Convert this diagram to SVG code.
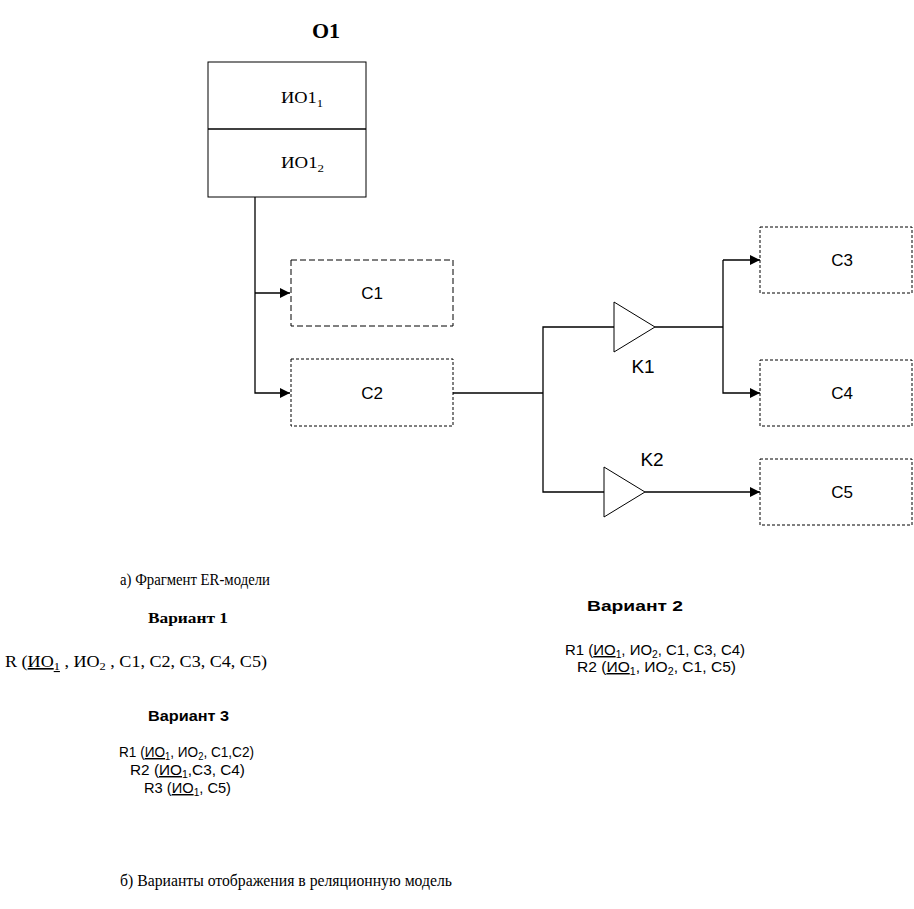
<svg xmlns="http://www.w3.org/2000/svg" width="914" height="909" viewBox="0 0 914 909">
<style>
.ln{fill:none;stroke:#000;stroke-width:1.3}
.box{fill:#fff;stroke:#000;stroke-width:1}
.dl{fill:#fff;stroke:#000;stroke-width:1;stroke-dasharray:6 3}
.ds{fill:#fff;stroke:#000;stroke-width:1;stroke-dasharray:3 2}
.tri{fill:#fff;stroke:#000;stroke-width:1}
.ser{font-family:"Liberation Serif",serif;fill:#000}
.san{font-family:"Liberation Sans",Arial,sans-serif;fill:#000}
</style>
<defs>
<marker id="ar" viewBox="0 0 10 10" refX="10" refY="5" markerWidth="10" markerHeight="10" markerUnits="userSpaceOnUse" orient="auto">
<path d="M0,0 L10,5 L0,10 z" fill="#000"/>
</marker>
</defs>
<rect width="914" height="909" fill="#fff"/>

<g id="O1">
<text class="ser" x="326" y="38" font-size="22" font-weight="bold" text-anchor="middle">O1</text>
<rect class="box" x="208" y="62" width="158" height="135"/>
<line class="ln" x1="208" y1="129" x2="366" y2="129" stroke-width="1"/>
<text class="ser" x="281" y="103" font-size="16" textLength="42" lengthAdjust="spacingAndGlyphs">ИО1<tspan dy="4" font-size="11">1</tspan></text>
<text class="ser" x="281" y="168" font-size="16" textLength="43" lengthAdjust="spacingAndGlyphs">ИО1<tspan dy="4" font-size="11">2</tspan></text>
</g>

<g id="connectors">
<polyline class="ln" points="255,197 255,393 290,393" marker-end="url(#ar)"/>
<polyline class="ln" points="255,293 290,293" marker-end="url(#ar)"/>
<polyline class="ln" points="453,393 543,393"/>
<polyline class="ln" points="614,327 543,327 543,492 604,492"/>
<polyline class="ln" points="655,327 723,327"/>
<polyline class="ln" points="723,260 723,393 760,393" marker-end="url(#ar)"/>
<polyline class="ln" points="723,260 760,260" marker-end="url(#ar)"/>
<polyline class="ln" points="645,492 760,492" marker-end="url(#ar)"/>
</g>

<g id="C1">
<rect class="dl" x="291" y="260" width="162" height="66"/>
<text class="san" x="372" y="299" font-size="17" text-anchor="middle">C1</text>
</g>
<g id="C2">
<rect class="ds" x="291" y="359" width="162" height="67"/>
<text class="san" x="372" y="399" font-size="17" text-anchor="middle">C2</text>
</g>
<g id="K1">
<polygon class="tri" points="614,302 614,352 655,327"/>
<text class="san" x="643" y="373" font-size="19" text-anchor="middle">K1</text>
</g>
<g id="K2">
<polygon class="tri" points="604,467 604,517 645,492"/>
<text class="san" x="652" y="466" font-size="19" text-anchor="middle">K2</text>
</g>
<g id="C3">
<rect class="ds" x="760" y="227" width="152" height="66"/>
<text class="san" x="842" y="266" font-size="17" text-anchor="middle">C3</text>
</g>
<g id="C4">
<rect class="ds" x="760" y="360" width="152" height="66"/>
<text class="san" x="842" y="399" font-size="17" text-anchor="middle">C4</text>
</g>
<g id="C5">
<rect class="ds" x="760" y="459" width="152" height="66"/>
<text class="san" x="842" y="498" font-size="17" text-anchor="middle">C5</text>
</g>

<g id="captions">
<text class="ser" x="120" y="585" font-size="16" textLength="150" lengthAdjust="spacingAndGlyphs">а) Фрагмент ER-модели</text>
<text class="ser" x="148" y="623" font-size="14" font-weight="bold" textLength="80" lengthAdjust="spacingAndGlyphs">Вариант 1</text>
<text class="ser" x="5" y="667" font-size="16" textLength="262" lengthAdjust="spacingAndGlyphs">R (<tspan text-decoration="underline">ИО</tspan><tspan dy="3" font-size="11" text-decoration="underline">1</tspan><tspan dy="-3"> , ИО</tspan><tspan dy="3" font-size="11">2</tspan><tspan dy="-3"> , C1, C2, C3, C4, C5)</tspan></text>

<text class="san" x="587" y="611" font-size="14" font-weight="bold" textLength="96" lengthAdjust="spacingAndGlyphs">Вариант  2</text>
<text class="san" x="565" y="655" font-size="14.5" textLength="180" lengthAdjust="spacingAndGlyphs">R1 (<tspan text-decoration="underline">ИО</tspan><tspan dy="3" font-size="10">1</tspan><tspan dy="-3">, ИО</tspan><tspan dy="3" font-size="10">2</tspan><tspan dy="-3">, C1,  C3, C4)</tspan></text>
<text class="san" x="577" y="672" font-size="14.5" textLength="159" lengthAdjust="spacingAndGlyphs">R2 (<tspan text-decoration="underline">ИО</tspan><tspan dy="3" font-size="10">1</tspan><tspan dy="-3">, ИО</tspan><tspan dy="3" font-size="10">2</tspan><tspan dy="-3">, C1, C5)</tspan></text>

<text class="san" x="148" y="721" font-size="14" font-weight="bold" textLength="81" lengthAdjust="spacingAndGlyphs">Вариант 3</text>
<text class="san" x="119" y="757" font-size="14.5" textLength="135" lengthAdjust="spacingAndGlyphs">R1 (<tspan text-decoration="underline">ИО</tspan><tspan dy="3" font-size="10">1</tspan><tspan dy="-3">, ИО</tspan><tspan dy="3" font-size="10">2</tspan><tspan dy="-3">, C1,C2)</tspan></text>
<text class="san" x="130" y="775" font-size="14.5" textLength="115" lengthAdjust="spacingAndGlyphs">R2 (<tspan text-decoration="underline">ИО</tspan><tspan dy="3" font-size="10">1</tspan><tspan dy="-3">,C3, C4)</tspan></text>
<text class="san" x="144" y="793" font-size="14.5" textLength="87" lengthAdjust="spacingAndGlyphs">R3 (<tspan text-decoration="underline">ИО</tspan><tspan dy="3" font-size="10">1</tspan><tspan dy="-3">,  C5)</tspan></text>

<text class="ser" x="120" y="886" font-size="16" textLength="332" lengthAdjust="spacingAndGlyphs">б) Варианты отображения в реляционную модель</text>
</g>
</svg>
